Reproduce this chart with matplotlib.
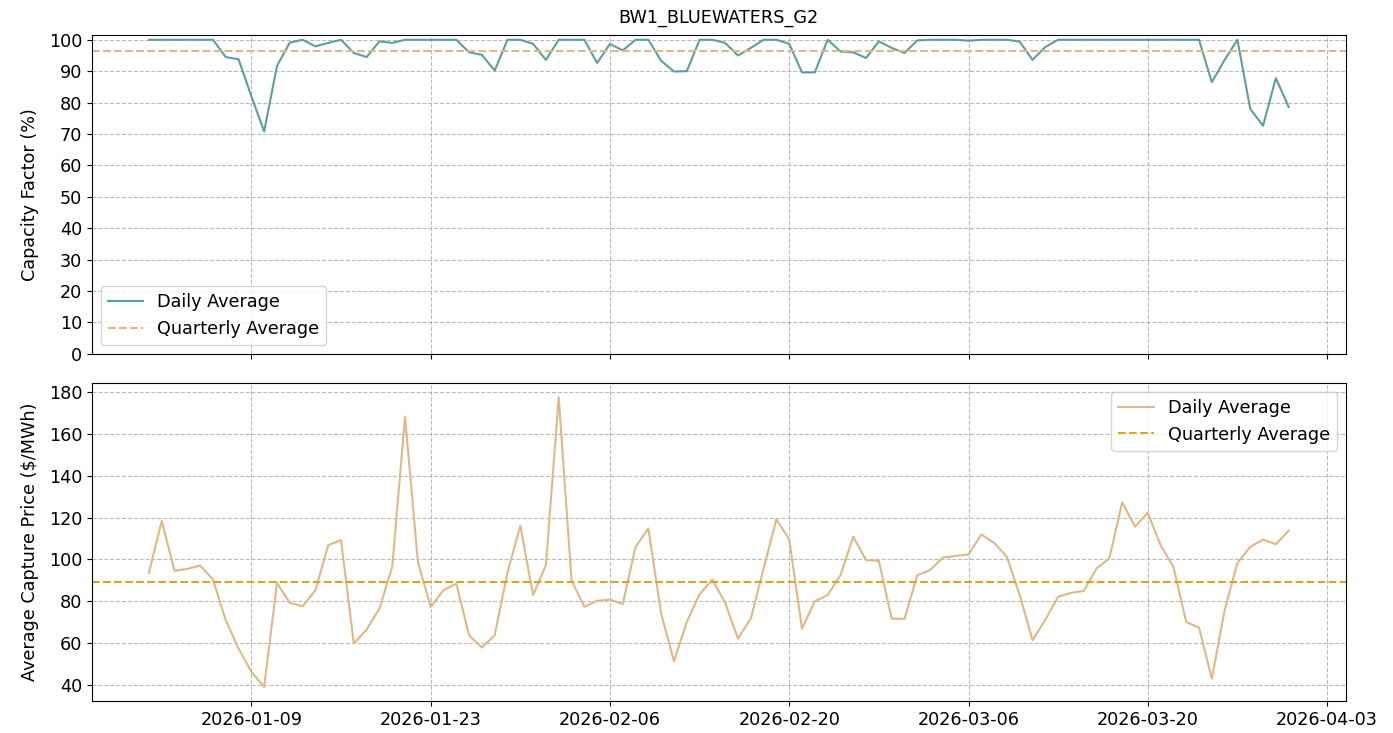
import matplotlib
matplotlib.use("Agg")
from matplotlib import pyplot as plt
import matplotlib.dates as mdates
import numpy as np
import pandas as pd

unit_name = "BW1_BLUEWATERS_G2"
days = pd.date_range("2026-01-01", "2026-03-31", freq="D")
tick_days = pd.date_range("2026-01-09", "2026-04-03", freq="14D")

# daily capacity factor (%)
capacity = np.array([
    100, 100, 100, 100, 100, 100, 94.5, 93.8, 82, 70.8,
    91.7, 99.1, 100, 97.9, 99, 100, 95.8, 94.5, 99.5, 99,
    100, 100, 100, 100, 100, 96, 95.2, 90.2, 100, 100,
    98.7, 93.6, 100, 100, 100, 92.6, 98.7, 96.6, 100, 100,
    93.3, 89.9, 90, 100, 100, 99, 95, 97.4, 100, 100,
    98.7, 89.6, 89.6, 100, 96.3, 96, 94.2, 99.5, 97.4, 95.8,
    99.8, 100, 100, 100, 99.7, 100, 100, 100, 99.4, 93.6,
    97.7, 100, 100, 100, 100, 100, 100, 100, 100, 100,
    100, 100, 100, 86.5, 93.6, 100, 78, 72.6, 87.8, 78.6,
])

# daily average capture price ($/MWh)
price = np.array([
    93.6, 118.4, 94.6, 95.5, 97.1, 90.4, 71.0, 57.5, 46.4, 39.2,
    88.8, 79.3, 77.7, 85.3, 106.8, 109.2, 59.9, 66.6, 76.6, 96.5,
    168.1, 98.9, 77.4, 85.3, 88.5, 63.9, 58.0, 63.9, 93.8, 116.0,
    83.0, 97.3, 177.3, 90.1, 77.4, 80.3, 80.9, 78.7, 106.0, 114.8,
    74.2, 51.5, 70.2, 83.4, 90.4, 79.3, 62.3, 71.8, 95.7, 119.1,
    109.5, 67.0, 80.1, 83.0, 92.5, 110.8, 99.7, 99.3, 71.8, 71.7,
    92.5, 94.9, 100.9, 101.7, 102.4, 111.9, 107.9, 101.3, 83.0, 61.5,
    71.3, 82.2, 84.1, 85.0, 95.7, 100.5, 127.2, 115.6, 122.3, 106.8,
    96.5, 70.2, 67.5, 43.2, 75.8, 98.4, 106.0, 109.5, 107.3, 113.7,
])

cap_quarter = 96.4
price_quarter = 89.3

fs = 12.7

fig, (ax1, ax2) = plt.subplots(2, 1, sharex=True, figsize=(13.93, 7.33), dpi=100)
fig.subplots_adjust(left=0.066, right=0.966, top=0.952, bottom=0.043, hspace=0.091)

ax1.plot(days, capacity, color="cadetblue", label="Daily Average")
ax1.axhline(cap_quarter, color="burlywood", linestyle="--", label="Quarterly Average")
ax1.set_ylim(bottom=0)
ax1.set_yticks(np.arange(0, 101, 10))
ax1.set_ylabel("Capacity Factor (%)", fontsize=fs, labelpad=7)
ax1.set_title(unit_name, fontsize=fs, pad=9)
ax1.grid(True, linestyle="--", color="darkgray", alpha=0.8)
ax1.legend(loc="lower left", fontsize=fs)

ax2.plot(days, price, color="burlywood", label="Daily Average")
ax2.axhline(price_quarter, color="goldenrod", linestyle="--", label="Quarterly Average")
ax2.set_ylabel("Average Capture Price (\\$/MWh)", fontsize=fs, labelpad=7)
ax2.grid(True, linestyle="--", color="darkgray", alpha=0.8)
ax2.legend(loc="upper right", fontsize=fs)

ax2.set_xticks(tick_days)
ax2.xaxis.set_major_formatter(mdates.DateFormatter("%Y-%m-%d"))
for ax in (ax1, ax2):
    ax.tick_params(labelsize=fs)

plt.savefig("out.png")
